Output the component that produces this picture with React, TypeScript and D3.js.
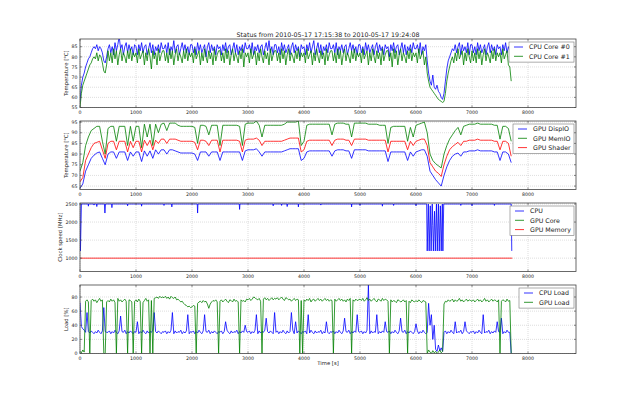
import React from 'react';
import * as d3 from 'd3';

const title = 'Status from 2010-05-17 17:15:38 to 2010-05-17 19:24:08';
const timeLabel = 'Time [s]';
const xTickValues = [0, 1000, 2000, 3000, 4000, 5000, 6000, 7000, 8000];

// sample grids of the log: CPU temps and loads every 25 s, GPU temps every 50 s
const fastTimes = d3.range(0, 7701, 25);
const slowTimes = d3.range(0, 7701, 50);

// CPU temperatures [°C], one row = 500 s
const cpuCore0 = [
  58, 66, 70, 72, 75, 77, 79, 80, 82, 84, 85, 84, 86, 83, 85, 84, 82, 78, 77, 80,
  84, 86, 82, 85, 81, 87, 83, 86, 90, 84, 86, 81, 85, 87, 82, 86, 83, 85, 81, 86,
  85, 81, 86, 83, 87, 82, 85, 86, 81, 84, 87, 82, 86, 81, 85, 83, 86, 82, 87, 84,
  84, 86, 82, 87, 81, 85, 83, 88, 82, 85, 86, 81, 84, 87, 83, 86, 82, 85, 81, 86,
  86, 82, 85, 81, 87, 83, 86, 82, 84, 86, 80, 85, 87, 82, 86, 83, 85, 81, 86, 84,
  85, 81, 86, 83, 87, 82, 85, 86, 81, 84, 87, 82, 86, 81, 85, 83, 86, 82, 87, 84,
  84, 86, 82, 87, 81, 85, 83, 86, 82, 85, 86, 81, 84, 87, 83, 88, 82, 85, 81, 86,
  86, 82, 85, 81, 87, 83, 86, 82, 84, 86, 81, 85, 87, 82, 86, 83, 85, 80, 86, 84,
  85, 81, 86, 83, 87, 82, 85, 88, 81, 84, 87, 82, 86, 81, 85, 83, 86, 82, 87, 84,
  84, 86, 82, 87, 81, 85, 83, 86, 82, 85, 86, 81, 84, 87, 83, 86, 82, 85, 81, 86,
  86, 82, 85, 81, 87, 83, 86, 82, 84, 86, 81, 85, 87, 82, 86, 83, 85, 81, 86, 84,
  85, 80, 86, 83, 87, 82, 85, 86, 81, 84, 87, 82, 86, 81, 85, 83, 86, 82, 87, 84,
  84, 86, 82, 87, 81, 85, 83, 86, 78, 72, 68, 66, 71, 65, 64, 66, 63, 62, 60, 59,
  62, 68, 74, 78, 80, 82, 84, 83, 86, 82, 85, 87, 81, 86, 83, 85, 82, 87, 81, 86,
  86, 82, 85, 81, 87, 83, 86, 82, 84, 86, 81, 85, 87, 82, 86, 83, 85, 81, 86, 84,
  85, 81, 86, 83, 87, 82, 85, 83, 80,
];
const cpuCore1 = [
  55, 62, 66, 68, 70, 72, 74, 76, 77, 79, 80, 79, 82, 78, 81, 80, 77, 73, 72, 76,
  83, 78, 82, 77, 84, 79, 83, 76, 81, 84, 78, 82, 80, 77, 83, 79, 84, 78, 82, 80,
  82, 77, 84, 79, 81, 83, 76, 82, 78, 84, 80, 74, 83, 79, 82, 76, 84, 78, 81, 83,
  83, 78, 82, 77, 84, 79, 83, 76, 81, 84, 78, 82, 80, 77, 83, 79, 84, 78, 82, 80,
  82, 77, 84, 79, 81, 83, 76, 82, 78, 84, 80, 77, 83, 79, 82, 76, 84, 78, 81, 83,
  83, 78, 82, 77, 84, 79, 83, 76, 81, 84, 78, 82, 80, 77, 83, 79, 84, 75, 82, 80,
  82, 77, 84, 79, 81, 83, 76, 82, 78, 84, 80, 77, 83, 79, 82, 76, 84, 78, 81, 83,
  83, 78, 82, 77, 84, 79, 83, 76, 81, 84, 78, 82, 80, 77, 83, 79, 84, 78, 82, 80,
  82, 77, 84, 79, 81, 83, 76, 82, 78, 84, 80, 77, 83, 79, 82, 76, 84, 78, 81, 83,
  83, 78, 82, 77, 84, 79, 83, 76, 81, 84, 78, 82, 80, 77, 83, 79, 84, 78, 82, 80,
  82, 77, 84, 79, 81, 83, 76, 82, 78, 84, 80, 77, 83, 79, 82, 76, 84, 78, 81, 83,
  83, 78, 82, 75, 84, 79, 83, 76, 81, 84, 78, 82, 80, 77, 83, 79, 84, 78, 82, 80,
  82, 77, 84, 79, 81, 83, 76, 80, 72, 68, 65, 64, 63, 62, 61, 60, 59, 58.5, 58, 57.5,
  58, 62, 68, 72, 75, 78, 80, 77, 82, 78, 84, 79, 81, 83, 76, 82, 78, 84, 80, 77,
  83, 78, 82, 77, 84, 79, 83, 76, 81, 84, 78, 82, 80, 77, 83, 79, 84, 78, 82, 80,
  82, 77, 84, 79, 81, 83, 76, 75, 68,
];

// GPU temperatures [°C], one row = 500 s
const gpuDispIO = [
  64, 66, 72, 75, 78, 79.5, 80.5, 81, 78, 75,
  80, 81, 81, 78, 81, 81, 81, 77, 81, 79,
  81, 81, 76.5, 81.5, 79, 81.5, 78, 82, 80, 82,
  82, 80, 82, 82, 81.5, 81, 80.5, 80.5, 80.5, 80.5,
  80.5, 80, 77, 81, 81, 81, 79, 81, 81, 81,
  77, 81, 81, 81, 81, 81, 81, 81, 77, 81.5,
  82, 82, 82, 82.5, 81, 79, 81, 81, 81, 81,
  81, 81, 81, 81.5, 82, 82.5, 82.5, 82.5, 82.5, 77,
  78, 81, 81.5, 81.5, 81.5, 81.5, 81.5, 81.5, 81.5, 81.5,
  79, 81.5, 82, 82, 82, 81.5, 81.5, 78, 82, 82,
  82, 82, 82, 81.5, 81.5, 81.5, 81.5, 81.5, 81.5, 81.5,
  76.5, 81, 81, 81, 81, 81, 81, 77, 81, 79,
  81, 81.5, 82, 82, 79, 72, 70, 68, 66.5, 65,
  70, 74, 77, 79, 80, 80.5, 79, 81, 81, 81.5,
  81.5, 81.5, 82, 81.5, 81.5, 81.5, 81.5, 81.5, 81, 81,
  77, 81, 81, 80, 76,
];
const gpuMemIO = [
  72, 76, 84, 88, 91, 92, 93, 93, 86, 80,
  92, 93, 93, 86, 93, 93, 93, 84, 93, 86,
  93, 93, 83, 94, 88, 94, 84, 94, 90, 94,
  94.5, 91, 94.5, 94.5, 94.5, 93.5, 93, 93, 93, 93,
  93, 92.5, 85, 93.5, 93.5, 93, 89, 93.5, 93.5, 93.5,
  84, 93.5, 93.5, 93.5, 93.5, 93.5, 93.5, 93, 84, 94,
  94.5, 94.5, 94.5, 95.5, 93.5, 88, 93.5, 93.5, 93.5, 93.5,
  93.5, 93.5, 93.5, 94, 95, 95, 95, 95, 95.5, 84,
  86, 93.5, 94, 94, 94, 94, 94, 94, 94, 94,
  89, 94, 94.5, 94.5, 94.5, 94, 94, 88, 94.5, 94.5,
  94.5, 94.5, 94.5, 94, 94, 94, 94, 93.5, 93.5, 93.5,
  85, 92.5, 93, 93, 93, 93, 93, 86, 92.5, 88,
  93.5, 94, 94.5, 95, 90, 80, 77, 75.5, 74.5, 73.5,
  80, 84, 87, 89, 91, 92.5, 89, 93, 93.5, 94,
  94, 94, 94.5, 94, 94, 94, 94, 94, 93.5, 93.5,
  87, 93, 93, 92, 86,
];
const gpuShader = [
  67, 69, 77, 80, 83, 85, 85.5, 86, 82, 78,
  85, 86, 86, 82, 86, 86, 86, 81, 86, 83,
  86, 86, 81, 86.5, 84, 86.5, 82, 86.5, 85, 87,
  87, 85, 87, 87, 87, 86.5, 86, 86, 86, 86,
  86, 85.5, 82, 86.5, 86.5, 86, 84, 86.5, 86.5, 86.5,
  81, 86.5, 86.5, 86.5, 86.5, 86.5, 86.5, 86, 81, 86.5,
  87, 87, 87, 87.5, 86.5, 84, 86, 86, 86, 86,
  86, 86, 86, 86.5, 87, 87.5, 87.5, 87.5, 87.5, 81,
  82, 86, 86.5, 86.5, 86.5, 86.5, 86.5, 86.5, 86.5, 86.5,
  84, 86.5, 87, 87, 87, 86.5, 86.5, 84, 87, 87,
  87, 87, 87, 86.5, 86.5, 86.5, 86.5, 86.5, 86.5, 86.5,
  81, 86, 86, 86, 86, 86, 86, 82, 86, 84,
  86, 86.5, 87, 87, 84, 76, 74, 72, 71, 69.5,
  75, 79, 82, 83.5, 84.5, 85.5, 84, 86, 86, 86.5,
  86.5, 86.5, 87, 86.5, 86.5, 86.5, 86.5, 86.5, 86, 86,
  82, 86, 86, 85, 79,
];

// clock speeds [MHz] as [time, value]
const cpuClock: [number, number][] = [
  [0, 2500], [8, 1200], [25, 2500],
  [146, 2500], [150, 2440], [154, 2500], [246, 2500], [250, 2470], [254, 2500],
  [296, 2500], [300, 2430], [304, 2500], [436, 2500], [445, 2250], [455, 2500],
  [566, 2500], [570, 2400], [574, 2500], [846, 2500], [850, 2450], [854, 2500],
  [1096, 2500], [1100, 2440], [1104, 2500], [1496, 2500], [1500, 2460], [1504, 2500],
  [1636, 2500], [1640, 2420], [1644, 2500], [2094, 2500], [2100, 2250], [2106, 2500],
  [2844, 2500], [2850, 2350], [2856, 2500], [3446, 2500], [3450, 2450], [3454, 2500],
  [3596, 2500], [3600, 2460], [3604, 2500], [3696, 2500], [3700, 2430], [3704, 2500],
  [3896, 2500], [3900, 2420], [3904, 2500], [4296, 2500], [4300, 2470], [4304, 2500],
  [4846, 2500], [4850, 2420], [4854, 2500], [4996, 2500], [5000, 2460], [5004, 2500],
  [5396, 2500], [5400, 2440], [5404, 2500], [5596, 2500], [5600, 2460], [5604, 2500],
  [5996, 2500], [6000, 2450], [6004, 2500], [6190, 2500],
  [6200, 1200], [6220, 2500], [6235, 1200], [6255, 2450], [6270, 1200], [6290, 2500],
  [6300, 1900], [6310, 1200], [6330, 2300], [6345, 1200], [6365, 2500], [6380, 1200],
  [6400, 2500], [6415, 1200], [6435, 2450], [6450, 1200], [6470, 2500], [6480, 1200],
  [6495, 2500], [6796, 2500], [6800, 2460], [6804, 2500], [6996, 2500], [7000, 2450],
  [7004, 2500], [7396, 2500], [7400, 2460], [7404, 2500], [7700, 2500], [7710, 1200],
];
// GPU core clock is not visible in the log plot
const gpuCoreClock: [number, number][] = [];
const gpuMemoryClock: [number, number][] = [[0, 1000], [7720, 1000]];

// load [%], one row = 500 s
const cpuLoad = [
  72, 38, 35, 33, 30, 58, 31, 29, 32, 30, 28, 31, 29, 33, 30, 28, 32, 65, 31, 30,
  30, 32, 28, 31, 29, 33, 30, 28, 32, 53, 31, 30, 33, 28, 31, 29, 32, 30, 28, 31,
  30, 45, 28, 31, 29, 33, 30, 28, 32, 29, 31, 30, 33, 58, 31, 29, 32, 30, 28, 31,
  30, 32, 28, 31, 29, 33, 58, 28, 32, 29, 31, 30, 33, 28, 31, 29, 32, 55, 28, 31,
  30, 32, 28, 31, 29, 33, 30, 28, 32, 55, 31, 30, 33, 28, 31, 29, 32, 30, 28, 31,
  30, 32, 28, 31, 45, 33, 30, 28, 32, 29, 31, 30, 33, 28, 31, 29, 32, 30, 40, 31,
  30, 32, 28, 31, 29, 33, 55, 28, 32, 29, 31, 30, 33, 50, 31, 29, 32, 30, 28, 58,
  30, 32, 28, 31, 29, 33, 30, 28, 32, 29, 31, 58, 33, 28, 45, 29, 32, 30, 28, 31,
  30, 32, 28, 55, 29, 33, 30, 28, 32, 29, 31, 30, 33, 28, 31, 29, 45, 30, 28, 31,
  30, 32, 28, 31, 29, 33, 30, 28, 32, 50, 31, 30, 33, 28, 31, 29, 32, 30, 55, 31,
  30, 32, 28, 31, 29, 33, 97, 28, 32, 29, 31, 30, 55, 28, 31, 29, 32, 30, 45, 31,
  30, 32, 28, 31, 29, 33, 30, 28, 32, 50, 31, 30, 33, 28, 31, 29, 32, 30, 28, 31,
  42, 32, 28, 31, 29, 33, 30, 28, 30, 71, 40, 55, 20, 40, 6, 3, 12, 4, 8, 3,
  30, 32, 28, 31, 29, 33, 30, 28, 45, 29, 31, 30, 33, 28, 31, 45, 32, 30, 28, 31,
  30, 32, 28, 31, 29, 33, 30, 28, 55, 29, 31, 30, 33, 28, 31, 29, 32, 30, 45, 31,
  30, 50, 28, 31, 29, 33, 30, 30, 0,
];
const gpuLoad = [
  3, 1, 5, 2, 74, 76, 73, 0, 75, 77, 74, 76, 72, 75, 78, 74, 76, 0, 0, 73,
  75, 73, 77, 74, 76, 72, 0, 78, 74, 76, 73, 75, 77, 74, 0, 76, 75, 73, 0, 74,
  76, 73, 77, 74, 0, 72, 75, 78, 74, 76, 0, 75, 0, 78, 79, 80, 78, 81, 79, 80,
  79, 81, 78, 80, 77, 81, 79, 78, 80, 76, 77, 75, 73, 74, 71, 69, 68, 66, 67, 65,
  66, 68, 67, 0, 71, 73, 74, 72, 75, 73, 74, 70, 64, 70, 73, 75, 74, 76, 73, 0,
  74, 76, 73, 75, 77, 74, 72, 76, 75, 73, 77, 74, 75, 73, 0, 76, 74, 75, 73, 77,
  76, 78, 75, 77, 80, 79, 77, 76, 78, 74, 0, 77, 79, 76, 78, 75, 77, 79, 76, 78,
  77, 79, 76, 78, 80, 77, 75, 79, 78, 76, 77, 74, 76, 78, 75, 77, 76, 0, 75, 0,
  76, 74, 77, 75, 78, 73, 76, 77, 74, 76, 78, 75, 77, 74, 76, 78, 75, 77, 74, 76,
  75, 0, 77, 74, 76, 78, 75, 77, 74, 76, 73, 77, 75, 78, 0, 76, 74, 77, 75, 76,
  77, 75, 78, 74, 76, 79, 75, 77, 74, 76, 78, 75, 73, 77, 76, 74, 78, 75, 77, 76,
  74, 0, 76, 73, 75, 74, 72, 76, 75, 73, 74, 76, 73, 75, 0, 74, 72, 76, 74, 73,
  75, 73, 76, 74, 72, 75, 74, 73, 0, 5, 2, 0, 4, 1, 3, 0, 2, 5, 1, 3,
  70, 74, 73, 76, 74, 75, 77, 73, 76, 74, 75, 78, 74, 76, 73, 75, 77, 74, 76, 75,
  74, 76, 73, 75, 77, 74, 76, 73, 75, 78, 74, 76, 73, 75, 77, 74, 76, 75, 73, 76,
  0, 74, 76, 75, 73, 77, 74, 75, 0,
];

const cpuTempTicks = [55, 60, 65, 70, 75, 80, 85];
const gpuTempTicks = [65, 70, 75, 80, 85, 90, 95];
const clockTicks = [1000, 1500, 2000, 2500];
const loadTicks = [0, 20, 40, 60, 80];

type Pt = [number, number];
const zip = (times: number[], vals: number[]): Pt[] => vals.map((v, i) => [times[i], v]);

const BLUE = '#0000ff';
const GREEN = '#008000';
const RED = '#ff0000';

const panels = [
  {
    yLabel: 'Temperature [°C]', yDomain: [55, 88.8], yTicks: cpuTempTicks, legendWidth: 65,
    series: [
      { name: 'CPU Core #0', color: BLUE, points: zip(fastTimes, cpuCore0) },
      { name: 'CPU Core #1', color: GREEN, points: zip(fastTimes, cpuCore1) },
    ],
  },
  {
    yLabel: 'Temperature [°C]', yDomain: [63.4, 95.5], yTicks: gpuTempTicks, legendWidth: 61,
    series: [
      { name: 'GPU DispIO', color: BLUE, points: zip(slowTimes, gpuDispIO) },
      { name: 'GPU MemIO', color: GREEN, points: zip(slowTimes, gpuMemIO) },
      { name: 'GPU Shader', color: RED, points: zip(slowTimes, gpuShader) },
    ],
  },
  {
    yLabel: 'Clock speed [MHz]', yDomain: [630, 2528], yTicks: clockTicks, legendWidth: 64,
    series: [
      { name: 'CPU', color: BLUE, points: cpuClock },
      { name: 'GPU Core', color: GREEN, points: gpuCoreClock },
      { name: 'GPU Memory', color: RED, points: gpuMemoryClock },
    ],
  },
  {
    yLabel: 'Load [%]', yDomain: [0, 97], yTicks: loadTicks, legendWidth: 55,
    series: [
      { name: 'CPU Load', color: BLUE, points: zip(fastTimes, cpuLoad) },
      { name: 'GPU Load', color: GREEN, points: zip(fastTimes, gpuLoad) },
    ],
  },
];

const W = 640;
const H = 393;
const left = 80;
const right = 576;
const firstTop = 39;
const panelStep = 82;
const panelH = 68.5;
const textColor = '#222';

export default function App() {
  const x = d3.scaleLinear().domain([0, 8857]).range([left, right]);

  return (
    <svg
      width={W}
      height={H}
      style={{ position: 'absolute', left: 0, top: 0 }}
      fontFamily="'DejaVu Sans', sans-serif"
    >
      <rect width={W} height={H} fill="#fff" />
      <text x={(left + right) / 2} y={36.6} textAnchor="middle" fontSize={6.3} fill={textColor}>
        {title}
      </text>

      {panels.map((p, i) => {
        const top = firstTop + i * panelStep;
        const bottom = top + panelH;
        const y = d3.scaleLinear().domain(p.yDomain).range([bottom, top]);
        const line = d3.line<Pt>().x(d => x(d[0])).y(d => y(d[1]));
        const maxLen = d3.max(p.yTicks, t => String(t).length) || 2;
        const labelX = left - (8 + 3 * maxLen);
        const lgX = right - 2 - p.legendWidth;
        const lgY = top + 3;
        const rowH = 9.3;

        return (
          <g key={i}>
            <clipPath id={`clip${i}`}>
              <rect x={left} y={top} width={right - left} height={panelH} />
            </clipPath>

            {/* grid */}
            {xTickValues.map(t => (
              <line key={`gx${t}`} x1={x(t)} x2={x(t)} y1={top} y2={bottom}
                stroke="#c8c8c8" strokeWidth={0.6} strokeDasharray="1,1" />
            ))}
            {p.yTicks.map(t => (
              <line key={`gy${t}`} x1={left} x2={right} y1={y(t)} y2={y(t)}
                stroke="#c8c8c8" strokeWidth={0.6} strokeDasharray="1,1" />
            ))}

            {/* data */}
            <g clipPath={`url(#clip${i})`}>
              {p.series.map(s => (
                s.points.length > 0 && (
                  <path key={s.name} d={line(s.points) || ''} fill="none"
                    stroke={s.color} strokeWidth={0.8} strokeLinejoin="round" />
                )
              ))}
            </g>

            {/* frame and ticks */}
            <rect x={left} y={top} width={right - left} height={panelH}
              fill="none" stroke="#444" strokeWidth={0.8} />
            {xTickValues.map(t => (
              <g key={`tx${t}`}>
                <line x1={x(t)} x2={x(t)} y1={bottom} y2={bottom - 2} stroke="#444" strokeWidth={0.6} />
                <line x1={x(t)} x2={x(t)} y1={top} y2={top + 2} stroke="#444" strokeWidth={0.6} />
                <text x={x(t)} y={bottom + 6} textAnchor="middle" fontSize={4.7} fill={textColor}>
                  {t}
                </text>
              </g>
            ))}
            {p.yTicks.map(t => (
              <g key={`ty${t}`}>
                <line x1={left} x2={left + 2} y1={y(t)} y2={y(t)} stroke="#444" strokeWidth={0.6} />
                <line x1={right} x2={right - 2} y1={y(t)} y2={y(t)} stroke="#444" strokeWidth={0.6} />
                <text x={left - 2.5} y={y(t) + 1.7} textAnchor="end" fontSize={4.7} fill={textColor}>
                  {t}
                </text>
              </g>
            ))}
            <text
              transform={`translate(${labelX},${(top + bottom) / 2}) rotate(-90)`}
              textAnchor="middle" dy="0.35em" fontSize={5.3} fill={textColor}
            >
              {p.yLabel}
            </text>

            {/* legend */}
            <rect x={lgX} y={lgY} width={p.legendWidth} height={p.series.length * rowH + 1.5}
              fill="#fff" stroke="#777" strokeWidth={0.6} />
            {p.series.map((s, k) => {
              const cy = lgY + 5 + k * rowH;
              return (
                <g key={`lg${s.name}`}>
                  <line x1={lgX + 5} x2={lgX + 14} y1={cy} y2={cy} stroke={s.color} strokeWidth={0.8} />
                  <text x={lgX + 20} y={cy + 2.2} fontSize={6.3} fill={textColor}>{s.name}</text>
                </g>
              );
            })}
          </g>
        );
      })}

      <text x={(left + right) / 2} y={365.3} textAnchor="middle" fontSize={5.3} fill={textColor}>
        {timeLabel}
      </text>
    </svg>
  );
}
